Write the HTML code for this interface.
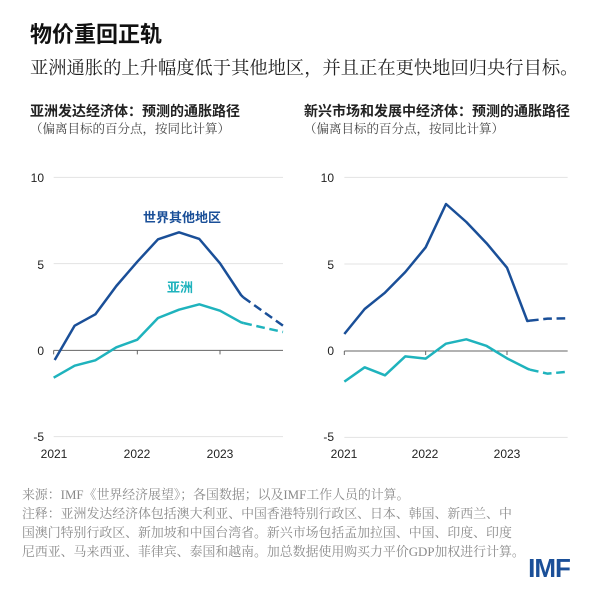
<!DOCTYPE html>
<html><head><meta charset="utf-8"><style>
body{margin:0;background:#fff;width:600px;height:598px;overflow:hidden}
svg{display:block}
.s{font-family:"Liberation Serif","Noto Serif CJK SC",serif}
.h{font-family:"Liberation Sans","Noto Sans CJK SC",sans-serif}
</style></head><body>
<svg width="600" height="598" viewBox="0 0 600 598" xmlns="http://www.w3.org/2000/svg">
<text x="30" y="42" class="h" font-size="22" font-weight="bold" fill="#111">物价重回正轨</text>
<text x="30" y="74" class="s" font-size="18.3" fill="#222">亚洲通胀的上升幅度低于其他地区，并且正在更快地回归央行目标。</text>
<text x="30" y="116" class="h" font-size="14" font-weight="bold" fill="#222">亚洲发达经济体：预测的通胀路径</text>
<text x="30" y="133" class="s" font-size="12.5" fill="#444">（偏离目标的百分点，按同比计算）</text>
<text x="304" y="116" class="h" font-size="14" font-weight="bold" fill="#222">新兴市场和发展中经济体：预测的通胀路径</text>
<text x="304" y="133" class="s" font-size="12.5" fill="#444">（偏离目标的百分点，按同比计算）</text>

<g class="h" font-size="12" fill="#222">
<text x="44" y="182" text-anchor="end">10</text>
<text x="44" y="269" text-anchor="end">5</text>
<text x="44" y="355" text-anchor="end">0</text>
<text x="44" y="441" text-anchor="end">-5</text>
<text x="54" y="458" text-anchor="middle">2021</text>
<text x="137" y="458" text-anchor="middle">2022</text>
<text x="220" y="458" text-anchor="middle">2023</text>
<text x="334" y="182" text-anchor="end">10</text>
<text x="334" y="269" text-anchor="end">5</text>
<text x="334" y="355" text-anchor="end">0</text>
<text x="334" y="441" text-anchor="end">-5</text>
<text x="344" y="458" text-anchor="middle">2021</text>
<text x="425" y="458" text-anchor="middle">2022</text>
<text x="507" y="458" text-anchor="middle">2023</text>
</g>

<g transform="translate(20 160) scale(0.33333)" fill="none" stroke-linejoin="round">
<line x1="101" x2="789" y1="52" y2="52" stroke="#e3e3e3" stroke-width="3"/>
<line x1="101" x2="789" y1="311" y2="311" stroke="#e3e3e3" stroke-width="3"/>
<line x1="101" x2="789" y1="830" y2="830" stroke="#e3e3e3" stroke-width="3"/>
<line x1="101" x2="789" y1="571" y2="571" stroke="#666" stroke-width="3"/>
<path d="M101 571v12M352 571v12M600 571v12" stroke="#666" stroke-width="3"/>
<polyline points="104,600 164,497 226,463 289,378 352,305 414,238 477,217 538,237 600,310 663,405 670,412" stroke="#1a4f98" stroke-width="7.5"/>
<polyline points="670,412 789,497" stroke="#1a4f98" stroke-width="7.5" stroke-dasharray="26 14"/>
<polyline points="101,653 164,617 226,601 289,562 352,539 414,474 477,449 538,433 600,452 663,487 670,489" stroke="#1fb3bd" stroke-width="7.5"/>
<polyline points="670,489 726,502 789,516" stroke="#1fb3bd" stroke-width="7.5" stroke-dasharray="26 14"/>
</g>
<text x="182" y="222" text-anchor="middle" class="h" font-size="13" font-weight="bold" fill="#1a4f98">世界其他地区</text>
<text x="180" y="292" text-anchor="middle" class="h" font-size="13" font-weight="bold" fill="#1fb3bd">亚洲</text>

<g transform="translate(310 160) scale(0.33333)" fill="none" stroke-linejoin="round">
<line x1="103" x2="773" y1="52" y2="52" stroke="#e3e3e3" stroke-width="3"/>
<line x1="103" x2="773" y1="312" y2="312" stroke="#e3e3e3" stroke-width="3"/>
<line x1="103" x2="773" y1="832" y2="832" stroke="#e3e3e3" stroke-width="3"/>
<line x1="103" x2="773" y1="573" y2="573" stroke="#666" stroke-width="3"/>
<path d="M103 573v12M347 573v12M591 573v12" stroke="#666" stroke-width="3"/>
<polyline points="103,522 164,447 225,398 286,336 347,262 408,132 469,186 530,250 591,323 652,483 660,482" stroke="#1a4f98" stroke-width="7.5"/>
<polyline points="660,482 713,476 773,475" stroke="#1a4f98" stroke-width="7.5" stroke-dasharray="26 14"/>
<polyline points="103,665 164,622 225,646 286,589 347,596 408,551 469,538 530,558 591,595 652,626 660,629" stroke="#1fb3bd" stroke-width="7.5"/>
<polyline points="660,629 713,641 773,635" stroke="#1fb3bd" stroke-width="7.5" stroke-dasharray="26 14"/>
</g>

<g class="s" font-size="12.9" fill="#8a8a8a">
<text x="22" y="499">来源：IMF《世界经济展望》；各国数据；以及IMF工作人员的计算。</text>
<text x="22" y="518">注释：亚洲发达经济体包括澳大利亚、中国香港特别行政区、日本、韩国、新西兰、中</text>
<text x="22" y="537">国澳门特别行政区、新加坡和中国台湾省。新兴市场包括孟加拉国、中国、印度、印度</text>
<text x="22" y="556">尼西亚、马来西亚、菲律宾、泰国和越南。加总数据使用购买力平价GDP加权进行计算。</text>
</g>
<text x="549" y="577" text-anchor="middle" class="h" font-size="26" font-weight="bold" fill="#1a4f98" letter-spacing="-1">IMF</text>
</svg>
</body></html>
